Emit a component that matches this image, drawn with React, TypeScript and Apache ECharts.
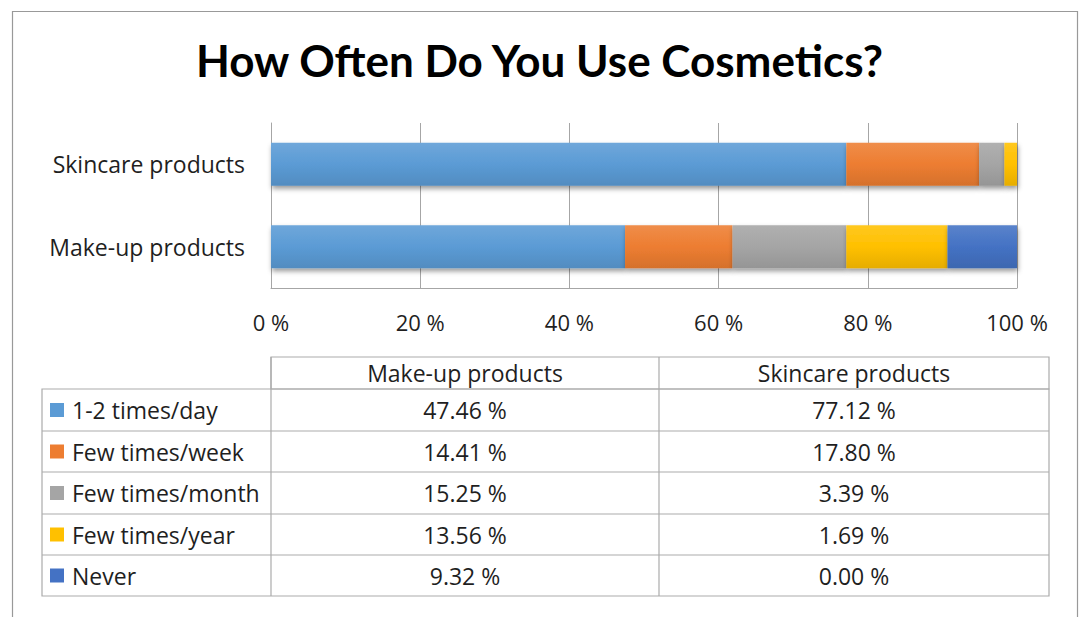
import React, { useEffect, useRef } from "react";
import * as echarts from "echarts";

const title = "How Often Do You Use Cosmetics?";
const categories = ["Make-up products", "Skincare products"];
const seriesNames = ["1-2 times/day", "Few times/week", "Few times/month", "Few times/year", "Never"];
const makeUp = [47.46, 14.41, 15.25, 13.56, 9.32];
const skincare = [77.12, 17.8, 3.39, 1.69, 0.0];
const colors = ["#5B9BD5", "#ED7D31", "#A5A5A5", "#FFC000", "#4472C4"];
const tickValues = [0, 20, 40, 60, 80, 100];

const FONT = "'Open Sans', Lato, sans-serif";
const TITLE_FONT = "Lato, 'Open Sans', sans-serif";

function lighten(hex: string, amt: number) {
  const n = parseInt(hex.slice(1), 16);
  const r = (n >> 16) & 255, g = (n >> 8) & 255, b = n & 255;
  const f = (c: number) => Math.max(0, Math.min(255, Math.round(amt > 0 ? c + (255 - c) * amt : c * (1 + amt))));
  return `rgb(${f(r)},${f(g)},${f(b)})`;
}

export default function App() {
  const ref = useRef<HTMLDivElement>(null);
  useEffect(() => {
    const chart = echarts.init(ref.current!, null, { renderer: "svg" });

    const tL = 42, tC1 = 271, tC2 = 659, tR = 1049;
    const rowTops = [357, 389, 431, 472, 514, 555, 596];
    const lineColor = "#ABABAB";
    const textColor = "#1F1F1F";
    const g: any[] = [];
    g.push({ type: "rect", shape: { x: 12.5, y: 11.5, width: 1065, height: 640 }, style: { fill: "none", stroke: "#999", lineWidth: 1.2 }, silent: true });
    g.push({ type: "rect", shape: { x: tC1, y: rowTops[0], width: tR - tC1, height: rowTops[1] - rowTops[0] }, style: { fill: "none", stroke: lineColor, lineWidth: 1.2 } });
    g.push({ type: "rect", shape: { x: tL, y: rowTops[1], width: tR - tL, height: rowTops[6] - rowTops[1] }, style: { fill: "none", stroke: lineColor, lineWidth: 1.2 } });
    for (let i = 2; i < 6; i++) {
      g.push({ type: "line", shape: { x1: tL, y1: rowTops[i], x2: tR, y2: rowTops[i] }, style: { stroke: lineColor, lineWidth: 1.2 } });
    }
    g.push({ type: "line", shape: { x1: tC1, y1: rowTops[0], x2: tC1, y2: rowTops[6] }, style: { stroke: lineColor, lineWidth: 1.2 } });
    g.push({ type: "line", shape: { x1: tC2, y1: rowTops[0], x2: tC2, y2: rowTops[6] }, style: { stroke: lineColor, lineWidth: 1.2 } });
    const colData = [makeUp, skincare];
    const colCenters = [(tC1 + tC2) / 2, (tC2 + tR) / 2];
    categories.forEach((c, j) => {
      g.push({ type: "text", x: colCenters[j], y: (rowTops[0] + rowTops[1]) / 2, style: { text: c, fill: textColor, font: `23px ${FONT}`, align: "center", verticalAlign: "middle" } });
    });
    seriesNames.forEach((s, i) => {
      const cy = (rowTops[i + 1] + rowTops[i + 2]) / 2;
      g.push({ type: "rect", shape: { x: 50, y: cy - 7, width: 14, height: 14 }, style: { fill: colors[i] } });
      g.push({ type: "text", x: 72, y: cy, style: { text: s, fill: textColor, font: `23px ${FONT}`, align: "left", verticalAlign: "middle" } });
      colData.forEach((d, j) => {
        g.push({ type: "text", x: colCenters[j], y: cy, style: { text: d[i].toFixed(2) + " %", fill: textColor, font: `23px ${FONT}`, align: "center", verticalAlign: "middle" } });
      });
    });

    chart.setOption({
      animation: false,
      backgroundColor: "#fff",
      title: {
        text: title,
        left: "center",
        top: 33,
        textStyle: { fontFamily: TITLE_FONT, fontWeight: "bold", fontSize: 44, color: "#000" },
      },
      grid: { left: 271, right: 62, top: 123, bottom: 329, containLabel: false },
      xAxis: {
        type: "value",
        min: 0,
        max: 100,
        interval: 20,
        axisLine: { show: true, lineStyle: { color: "#A6A6A6" } },
        axisTick: { show: false },
        splitLine: { show: true, lineStyle: { color: "#A6A6A6", width: 1 } },
        axisLabel: {
          margin: 23,
          fontFamily: FONT,
          fontSize: 22,
          color: textColor,
          formatter: (v: number) => (tickValues.includes(v) ? `${v} %` : ""),
        },
      },
      yAxis: {
        type: "category",
        data: categories,
        axisLine: { show: true, lineStyle: { color: "#A6A6A6" } },
        axisTick: { show: false },
        axisLabel: { margin: 26, fontFamily: FONT, fontSize: 23, color: textColor },
      },
      series: seriesNames.map((name, i) => ({
        name,
        type: "bar",
        stack: "total",
        barWidth: 43,
        data: [makeUp[i], skincare[i]],
        itemStyle: {
          color: new echarts.graphic.LinearGradient(0, 0, 0, 1, [
            { offset: 0, color: lighten(colors[i], 0.12) },
            { offset: 0.5, color: colors[i] },
            { offset: 1, color: lighten(colors[i], -0.1) },
          ]),
          shadowColor: "rgba(0,0,0,0.4)",
          shadowBlur: 5,
          shadowOffsetX: 1,
          shadowOffsetY: 3,
        },
      })),
      graphic: g,
    });
    return () => chart.dispose();
  }, []);
  return <div ref={ref} style={{ position: "fixed", left: 0, top: 0, width: 1079, height: 617 }} />;
}
